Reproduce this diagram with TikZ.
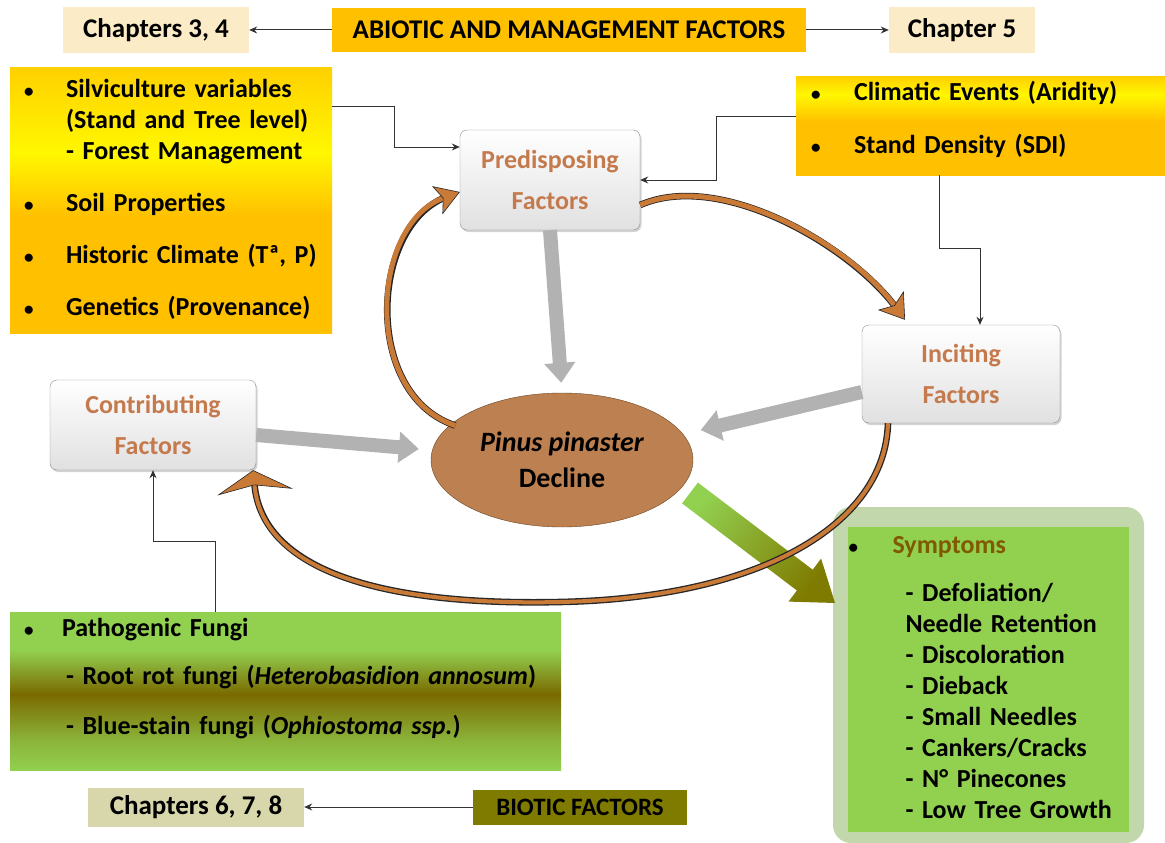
\documentclass[tikz,border=0pt]{standalone}
\usepackage{fontspec}
\setmainfont{Carlito}
\usetikzlibrary{arrows.meta,shapes.geometric,shadows,positioning}

\definecolor{orgA}{HTML}{FFC000}
\definecolor{yelA}{HTML}{FFF700}
\colorlet{orgtop}{orgA!70!yelA}
\definecolor{beigeA}{HTML}{FCEBC7}
\definecolor{khakiA}{HTML}{D7D7AB}
\definecolor{oliveA}{HTML}{7F7A00}
\definecolor{oliveB}{HTML}{7A6A00}
\definecolor{greenA}{HTML}{92D050}
\colorlet{greenmid}{greenA!70!oliveB}
\definecolor{glowA}{HTML}{C3D7AC}
\definecolor{brownA}{HTML}{BD8051}
\definecolor{arrowbrown}{HTML}{C97A37}
\definecolor{factxt}{HTML}{C47A4C}
\definecolor{symtxt}{HTML}{7F5A00}

% fills of the three list boxes
\pgfdeclareverticalshading{silvishade}{100bp}{color(0bp)=(orgA); color(25bp)=(orgA); color(47bp)=(orgA); color(59bp)=(yelA); color(75bp)=(orgtop); color(100bp)=(orgtop)}
\pgfdeclareverticalshading{climshade}{100bp}{color(0bp)=(orgA); color(25bp)=(orgA); color(52bp)=(orgA); color(66bp)=(yelA); color(75bp)=(orgtop); color(100bp)=(orgtop)}
\pgfdeclareverticalshading{fungishade}{100bp}{color(0bp)=(greenA); color(25bp)=(greenA); color(35bp)=(greenmid); color(49bp)=(oliveB); color(63bp)=(greenA); color(100bp)=(greenA)}

\newcommand{\bul}{{\fontsize{19}{19}\selectfont\textbullet}}

\begin{document}
\begin{tikzpicture}[x=1pt, y=-1pt,
  every node/.style={font=\bfseries\fontsize{26}{31}\selectfont},
  chapbox/.style={inner sep=0pt, font=\bfseries\fontsize{27}{31}\selectfont},
  listbox/.style={inner xsep=14pt, inner ysep=0pt, align=left},
  factbox/.style={rounded corners=7pt, draw=black!45, top color=white, bottom color=black!12,
    text=factxt, align=center, inner sep=0pt,
    drop shadow={opacity=0.35, shadow xshift=1.5pt, shadow yshift=-2pt},
    font=\bfseries\fontsize{26}{41}\selectfont},
  link/.style={draw=black!80, line width=1pt, -{Stealth[length=8pt,width=7pt]}},
  grayarrow/.style={draw=black!30, line width=14pt, -{Triangle[length=20pt,width=30pt]}},
  curvarrow/.style={draw=arrowbrown, line width=5pt,
    preaction={draw=black!85, line width=6.6pt, arrows=-, shorten >=14pt}}
]
\useasboundingbox (0,0) rectangle (1165,843);

% top row
\node[chapbox, fill=beigeA, minimum width=186pt, minimum height=46pt] (ch34) at (156,30) {Chapters 3, 4};
\node[chapbox, fill=orgA, minimum width=474pt, minimum height=44pt] (abio) at (569,30) {ABIOTIC AND MANAGEMENT FACTORS};
\node[chapbox, fill=beigeA, minimum width=146pt, minimum height=46pt] (ch5) at (962,30) {Chapter 5};
\draw[link] (abio.west) -- (ch34.east);
\draw[link] (abio.east) -- (ch5.west);

% abiotic lists
\node[listbox, shade, shading=silvishade, minimum width=322pt, minimum height=265pt, text width=294pt] (silvi) at (171,200.5) {%
\begin{tabular}{@{}p{42pt}@{}l@{}}
\bul & Silviculture variables\\
 & (Stand and Tree level)\\
 & - Forest Management\\[21pt]
\bul & Soil Properties\\[21pt]
\bul & Historic Climate (Tª, P)\\[21pt]
\bul & Genetics (Provenance)
\end{tabular}};
\node[listbox, shade, shading=climshade, minimum width=369pt, minimum height=98pt, text width=339pt, inner xsep=15pt] (clim) at (980.5,126) {%
\begin{tabular}{@{}p{43pt}@{}l@{}}
\bul & Climatic Events (Aridity)\\[22pt]
\bul & Stand Density (SDI)\\[10pt]
\end{tabular}};

% factors and decline
\node[factbox, minimum width=180pt, minimum height=100pt] (predis) at (550,180) {Predisposing\\Factors};
\node[factbox, minimum width=198pt, minimum height=98pt] (incit) at (961,374) {Inciting\\Factors};
\node[factbox, minimum width=206pt, minimum height=90pt] (contr) at (153,425) {Contributing\\Factors};
\node[ellipse, draw=brown!55!black, fill=brownA, minimum width=262pt, minimum height=134pt, inner sep=0pt,
  align=center, font=\bfseries\fontsize{28}{36}\selectfont] (decline) at (562,460) {\textit{Pinus pinaster}\\Decline};

\draw[link] ([yshift=-39pt]silvi.north east) -- ++(62,0) |- ([yshift=33pt]predis.west);
\draw[link] ([yshift=-40pt]clim.north west) -- ++(-79,0) |- (predis.east);
\coordinate (incitin) at ([xshift=19pt]incit.north);
\draw[link] ([xshift=144pt]clim.south west) -- ++(0,73) -| (incitin);

\draw[grayarrow, shorten >=10pt] (predis.south) -- (decline.north);
\draw[grayarrow, shorten >=12pt] ([yshift=-10pt]contr.east) -- ([yshift=10pt]decline.west);
\draw[grayarrow, shorten >=18pt] ([yshift=-18pt]incit.west) -- (decline.12);

% symptoms
\fill[glowA, rounded corners=18pt] (833,507) rectangle (1144,843);
\node[fill=greenA, minimum width=281pt, minimum height=305pt, text width=280pt, align=left,
  inner xsep=0.5pt, inner ysep=0pt] (symp) at (988.5,679.5) {%
\begin{tabular}{@{}p{44pt}@{}l@{}}
\bul & \textcolor{symtxt}{Symptoms}\\[17pt]
 & \hspace{13pt}- Defoliation/\\
 & \hspace{13pt}Needle Retention\\
 & \hspace{13pt}- Discoloration\\
 & \hspace{13pt}- Dieback\\
 & \hspace{13pt}- Small Needles\\
 & \hspace{13pt}- Cankers/Cracks\\
 & \hspace{13pt}- N° Pinecones\\
 & \hspace{13pt}- Low Tree Growth
\end{tabular}};
% green arrow decline -> symptoms
\shade[top color=greenA, bottom color=oliveA, shading angle=52.8]
  (682.1,503.4) -- (697.9,482.6) -- (812.7,569.7) -- (821.1,558.6) -- (835,603)
  -- (788.5,601.6) -- (796.9,590.5) -- cycle;

% biotic
\node[listbox, shade, shading=fungishade, minimum width=551pt, minimum height=158pt, text width=523pt] (fungi) at (285.5,691) {%
\begin{tabular}{@{}p{38pt}@{}l@{}}
\bul & Pathogenic Fungi\\[17pt]
 & \hspace{4pt}- Root rot fungi (\textit{Heterobasidion annosum})\\[19pt]
 & \hspace{4pt}- Blue-stain fungi (\textit{Ophiostoma ssp.})\\[24pt]
\end{tabular}};
\draw[link] ([xshift=206pt]fungi.north west) -- ++(0,-70) -| (contr.south);
\node[chapbox, fill=khakiA, minimum width=216pt, minimum height=39pt] (ch678) at (196,807) {Chapters 6, 7, 8};
\node[chapbox, fill=oliveA, minimum width=214pt, minimum height=35pt, font=\bfseries\fontsize{25}{28}\selectfont] (biotic) at (580,807) {BIOTIC FACTORS};
\draw[link] (biotic.west) -- (ch678.east);

% the decline spiral
\draw[curvarrow, -{Stealth[length=24pt,width=30pt,inset=6pt,fill=arrowbrown,color=black!85,line width=0.6pt]}]
  ([xshift=6pt]decline.163) .. controls (362,395) and (370,225) .. ([yshift=-12pt]predis.west);
\draw[curvarrow, -{Stealth[length=24pt,width=32pt,inset=6pt,fill=arrowbrown,color=black!85,line width=0.6pt]}]
  ([yshift=-25pt]predis.east) .. controls (720,170) and (850,245) .. ([xshift=-56pt,yshift=5pt]incit.north);
\draw[curvarrow, line width=4pt, -{Stealth[length=22pt,width=76pt,inset=7pt,fill=arrowbrown,color=black!85,line width=0.6pt]}]
  ([xshift=-73pt]incit.south) .. controls (885,525) and (760,598) .. (560,602)
  .. controls (380,606) and (262,570) .. ([xshift=-3pt]contr.south east);
\end{tikzpicture}
\end{document}
